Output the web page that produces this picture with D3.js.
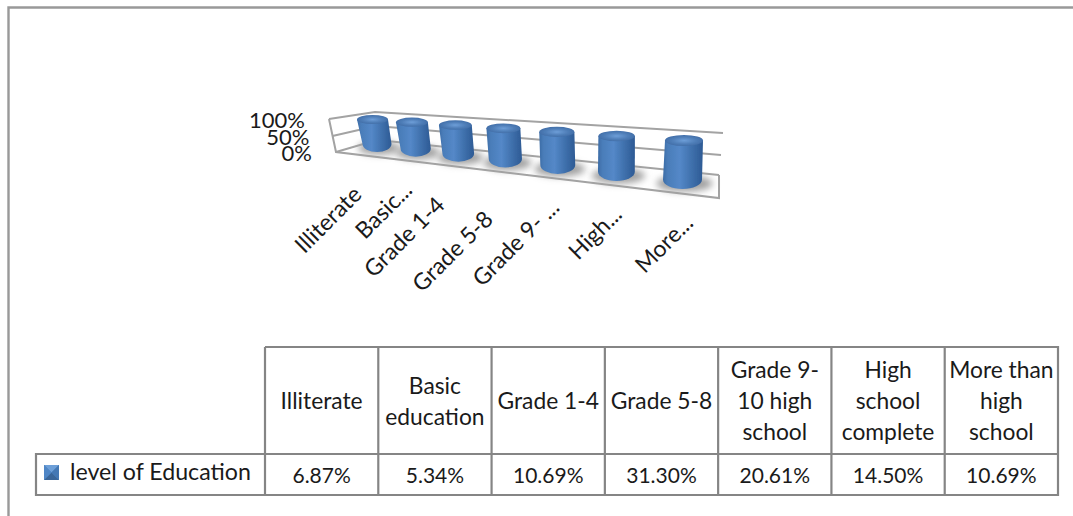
<!DOCTYPE html>
<html><head><meta charset="utf-8">
<script src="https://cdn.jsdelivr.net/npm/d3@7/dist/d3.min.js"></script>
<style>html,body{margin:0;padding:0;background:#fff;overflow:hidden}svg{display:block}text{font-family:Lato,"Open Sans",sans-serif;fill:#1a1a1a}</style>
</head><body><svg id="c" width="1073" height="516"></svg>
<script>
// ---- data ----
const categories = ["Illiterate","Basic education","Grade 1-4","Grade 5-8","Grade 9-10 high school","High school complete","More than high school"];
const axisLabels = ["Illiterate","Basic...","Grade 1-4","Grade 5-8","Grade 9- ...","High...","More..."];
const headerLines = [["Illiterate"],["Basic","education"],["Grade 1-4"],["Grade 5-8"],["Grade 9-","10 high","school"],["High","school","complete"],["More than","high","school"]];
const seriesName = "level of Education";
const values = [6.87,5.34,10.69,31.30,20.61,14.50,10.69];
const valueLabels = ["6.87%","5.34%","10.69%","31.30%","20.61%","14.50%","10.69%"];
const valueTicks = [0,0.5,1];
const tickLabels = ["0%","50%","100%"];

// ---- layout ----
const svg = d3.select("#c");
const defs = svg.append("defs");
const frameColor="#999", tableColor="#858585", wallColor="#a3a3a3";

// perspective: category -> depth fraction t (0 = far end, 1 = near end)
const k = 1.38;
const u = d3.scalePoint().domain(categories).range([0,1]);
const depth = c => { const a=u(c); return a/(a+k*(1-a)); };
const lerp = (a,b)=>d3.scaleLinear().domain([0,1]).range([a,b]);
const topX=lerp(372.5,684), botX=lerp(377,682.5), topY=lerp(119.5,140.5), botY=lerp(144,179.5);
const topRx=lerp(15.5,19), botRx=lerp(14.5,19.5), topRy=lerp(4.5,5.5), botRy=lerp(8,9.5);
// 100% stacked share of the single series
const share = v => v/v;
const vY = (t,s)=>d3.scaleLinear().domain([0,1]).range([botY(t),topY(t)])(s);
const vX = (t,s)=>d3.scaleLinear().domain([0,1]).range([botX(t),topX(t)])(s);

// frame
svg.append("path").attr("d","M8.5,516V7.5H1073").attr("fill","none").attr("stroke",frameColor).attr("stroke-width",2.4);

// walls
const leftX=d3.scaleLinear().domain([0,1]).range([336,329]), leftY=d3.scaleLinear().domain([0,.5,1]).range([152,136,119]);
const cornerX=d3.scaleLinear().domain([0,1]).range([377,375]), cornerY=d3.scaleLinear().domain([0,.5,1]).range([140,126,112]);
const rightX=d3.scaleLinear().domain([0,1]).range([719,723]), rightY=d3.scaleLinear().domain([0,.5,1]).range([175,155,133]);
const wall=svg.append("g").attr("fill","none").attr("stroke",wallColor).attr("stroke-width",2);
valueTicks.forEach(v=>{
  wall.append("path").attr("d",d3.line()([[leftX(v),leftY(v)],[cornerX(v),cornerY(v)],[rightX(v),rightY(v)]]));
});
wall.append("path").attr("d",d3.line()([[leftX(1),leftY(1)],[leftX(0),leftY(0)],[719,198],[rightX(0),rightY(0)]]));
svg.append("g").selectAll("text").data(valueTicks).join("text")
  .attr("x",(v,i)=>leftX(v)-[24,23,24][i]).attr("y",v=>leftY(v)+9).attr("text-anchor","end")
  .attr("font-size",22).text((v,i)=>tickLabels[i]);

// gradients, filter
defs.append("filter").attr("id","sh").attr("x","-50%").attr("y","-80%").attr("width","200%").attr("height","260%")
  .append("feGaussianBlur").attr("stdDeviation",3.5);
defs.append("filter").attr("id","soft").append("feGaussianBlur").attr("stdDeviation",0.4);
const body=defs.append("linearGradient").attr("id","body");
[[0,"#3c6ca6"],[.12,"#4a7db9"],[.42,"#5488c8"],[.72,"#3f70ac"],[1,"#2d5a94"]].forEach(s=>body.append("stop").attr("offset",s[0]).attr("stop-color",s[1]));
const cap=defs.append("radialGradient").attr("id","cap");
[[0,"#6d9ed8"],[.6,"#507fb9"],[1,"#426fa9"]].forEach(s=>cap.append("stop").attr("offset",s[0]).attr("stop-color",s[1]));

// shadows
svg.append("g").selectAll("ellipse").data(categories).join("ellipse")
  .attr("cx",c=>botX(depth(c))+2).attr("cy",c=>botY(depth(c))+4)
  .attr("rx",c=>botRx(depth(c))*1.45).attr("ry",c=>botRy(depth(c))*.85)
  .attr("fill","#a0a0a0").attr("filter","url(#sh)");

// cylinders
const cyl=svg.append("g").attr("filter","url(#soft)").selectAll("g").data(categories.map((c,i)=>({c,v:values[i]}))).join("g");
cyl.append("path").attr("fill","url(#body)").attr("d",d=>{
  const t=depth(d.c), s=share(d.v);
  const xt=vX(t,s), yt=vY(t,s), xb=vX(t,0), yb=vY(t,0), rt=topRx(t), rb=botRx(t), ry=botRy(t);
  return `M${xt-rt},${yt}L${xb-rb},${yb}A${rb},${ry} 0 0 0 ${xb+rb},${yb}L${xt+rt},${yt}Z`;
});
cyl.append("ellipse").attr("fill","url(#cap)")
  .attr("cx",d=>vX(depth(d.c),share(d.v))).attr("cy",d=>vY(depth(d.c),share(d.v)))
  .attr("rx",d=>topRx(depth(d.c))).attr("ry",d=>topRy(depth(d.c)));

// rotated axis labels (text end offset from each cylinder's centre)
const labelDx=[-14,-2,-12,-11,3,7,12], labelDy=[52,43,53,62,44,44,45];
svg.append("g").selectAll("text").data(axisLabels).join("text")
  .attr("text-anchor","end").attr("font-size",23)
  .attr("transform",(l,i)=>{const t=depth(categories[i]);return `translate(${botX(t)+labelDx[i]},${botY(t)+labelDy[i]}) rotate(-45)`;})
  .text(l=>l);

// data table
const colX=d3.scaleLinear().domain([0,7]).range([265,1058]);
const rowTop=347, rowMid=454, rowBot=495, legendX=36;
const grid=svg.append("g").attr("fill","none").attr("stroke",tableColor).attr("stroke-width",2.2);
grid.append("path").attr("d",`M${colX(0)},${rowTop}H${colX(7)}V${rowBot}H${legendX}V${rowMid}H${colX(7)}`);
grid.selectAll("line").data(d3.range(7)).join("line")
  .attr("x1",i=>colX(i)).attr("x2",i=>colX(i)).attr("y1",rowTop).attr("y2",rowBot);
const lh=31;
svg.append("g").selectAll("g").data(headerLines).join("g").each(function(lines,i){
  d3.select(this).selectAll("text").data(lines).join("text")
    .attr("x",colX(i+.5)).attr("y",(l,j)=>401-(lines.length-1)*lh/2+j*lh+8)
    .attr("text-anchor","middle").attr("font-size",22.8).text(l=>l);
});
svg.append("g").selectAll("text").data(valueLabels).join("text")
  .attr("x",(l,i)=>colX(i+.5)).attr("y",483).attr("text-anchor","middle").attr("font-size",21).text(l=>l);
svg.append("text").attr("x",70).attr("y",480).attr("font-size",23.2).text(seriesName);

// legend key
const key=svg.append("g").attr("transform","translate(44,465)");
key.append("rect").attr("width",15).attr("height",15).attr("fill","#4a7ebb");
key.append("path").attr("d","M0,0H15L7.5,7.5Z").attr("fill","#6d9fd8");
key.append("path").attr("d","M0,15H15L7.5,7.5Z").attr("fill","#3a6699");
key.append("path").attr("d","M0,0V15L7.5,7.5Z").attr("fill","#4f86c6");
key.append("path").attr("d","M15,0V15L7.5,7.5Z").attr("fill","#4478b4");
</script></body></html>
